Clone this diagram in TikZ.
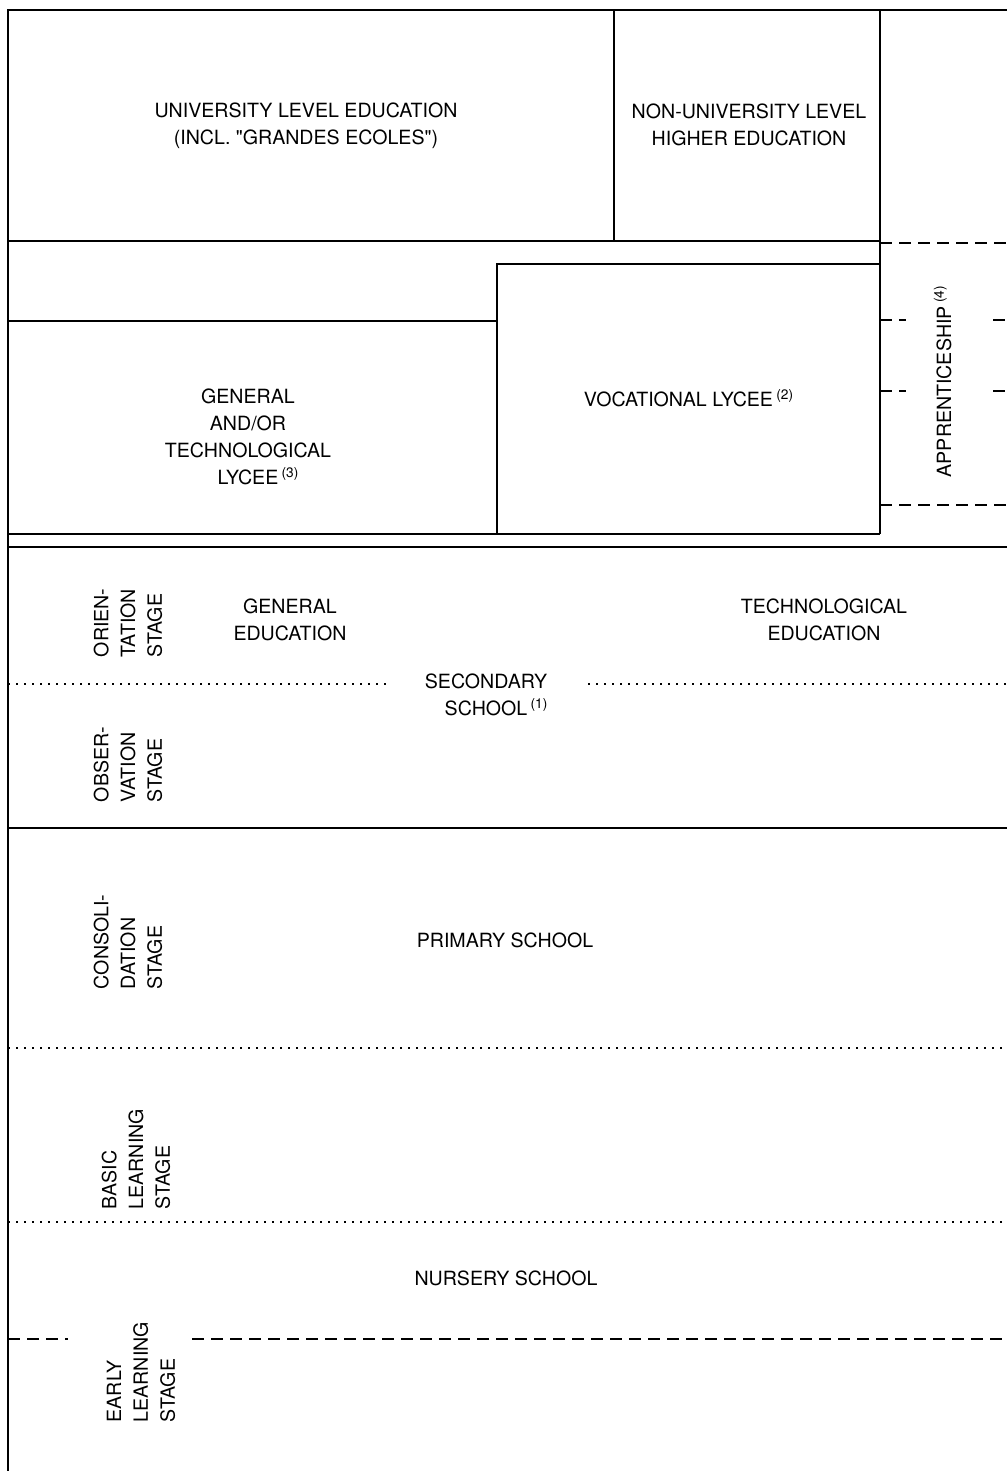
\documentclass[tikz,border=0pt]{standalone}
\usepackage{fontspec}
\setmainfont{TeX Gyre Heros}[Ligatures=TeXOff]
\begin{document}
\begin{tikzpicture}[x=0.5pt, y=-0.5pt, line width=0.8pt,
    lbl/.style={align=center, inner sep=0pt, font=\fontsize{9.8}{13.4}\selectfont},
    stagelbl/.style={lbl, rotate=90, align=left, anchor=west},
    dotline/.style={dash pattern=on 1pt off 3pt},
    dashline/.style={dash pattern=on 6pt off 3.5pt}]
    \useasboundingbox (0,0) rectangle (1007,1471);

    \draw (8,1471) -- (8,10) -- (1007,10);
    \draw (614,10) -- (614,241);
    \draw (880,10) -- (880,534);
    \draw (8,241) -- (880,241);
    \draw (8,321) -- (497,321);
    \draw (497,534) -- (497,264) -- (880,264);
    \draw (8,534) -- (880,534);
    \draw (8,547) -- (1007,547);
    \draw (8,828) -- (1007,828);

    \draw[dashline] (880,243) -- (1007,243);
    \draw[dashline] (880,505) -- (1007,505);
    \foreach \y in {320,391} {
        \draw[dashline] (880,\y) -- (906,\y);
        \draw[dashline] (993,\y) -- (1007,\y);
    }

    \draw[dotline] (8,684) -- (390,684);
    \draw[dotline] (588,684) -- (1007,684);
    \draw[dotline] (8,1048) -- (1007,1048);
    \draw[dotline] (8,1222) -- (1007,1222);
    \draw[dashline] (8,1339) -- (68,1339);
    \draw[dashline] (192,1339) -- (1007,1339);

    \node[lbl] (univ) at (306,126) {UNIVERSITY LEVEL EDUCATION\\(INCL. "GRANDES ECOLES")};
    \node[lbl] (nonuniv) at (749,125) {NON-UNIVERSITY LEVEL\\HIGHER EDUCATION};
    \node[lbl] (genlycee) at (248,437) {GENERAL\\AND/OR\\TECHNOLOGICAL\\LYCEE\rlap{\,\textsuperscript{(3)}}};
    \node[lbl] (voclycee) at (689,398) {VOCATIONAL LYCEE\,\textsuperscript{(2)}};
    \node[lbl, rotate=90, anchor=base west] (appr) at (951,478) {APPRENTICESHIP\,\textsuperscript{(4)}};

    \node[lbl] (genedu) at (290,620) {GENERAL\\EDUCATION};
    \node[lbl] (techedu) at (824,620) {TECHNOLOGICAL\\EDUCATION};
    \node[lbl] (secondary) at (486,695) {SECONDARY\\SCHOOL\rlap{\,\textsuperscript{(1)}}};
    \node[lbl] (primary) at (505,940) {PRIMARY SCHOOL};
    \node[lbl] (nursery) at (506,1278) {NURSERY SCHOOL};

    \node[stagelbl] (orient) at (128,658) {ORIEN-\\TATION\\STAGE};
    \node[stagelbl] (observ) at (128,803) {OBSER-\\VATION\\STAGE};
    \node[stagelbl] (consol) at (128,990) {CONSOLI-\\DATION\\STAGE};
    \node[stagelbl] (basic) at (136,1210) {BASIC\\LEARNING\\STAGE};
    \node[stagelbl] (early) at (141,1423) {EARLY\\LEARNING\\STAGE};
\end{tikzpicture}
\end{document}
